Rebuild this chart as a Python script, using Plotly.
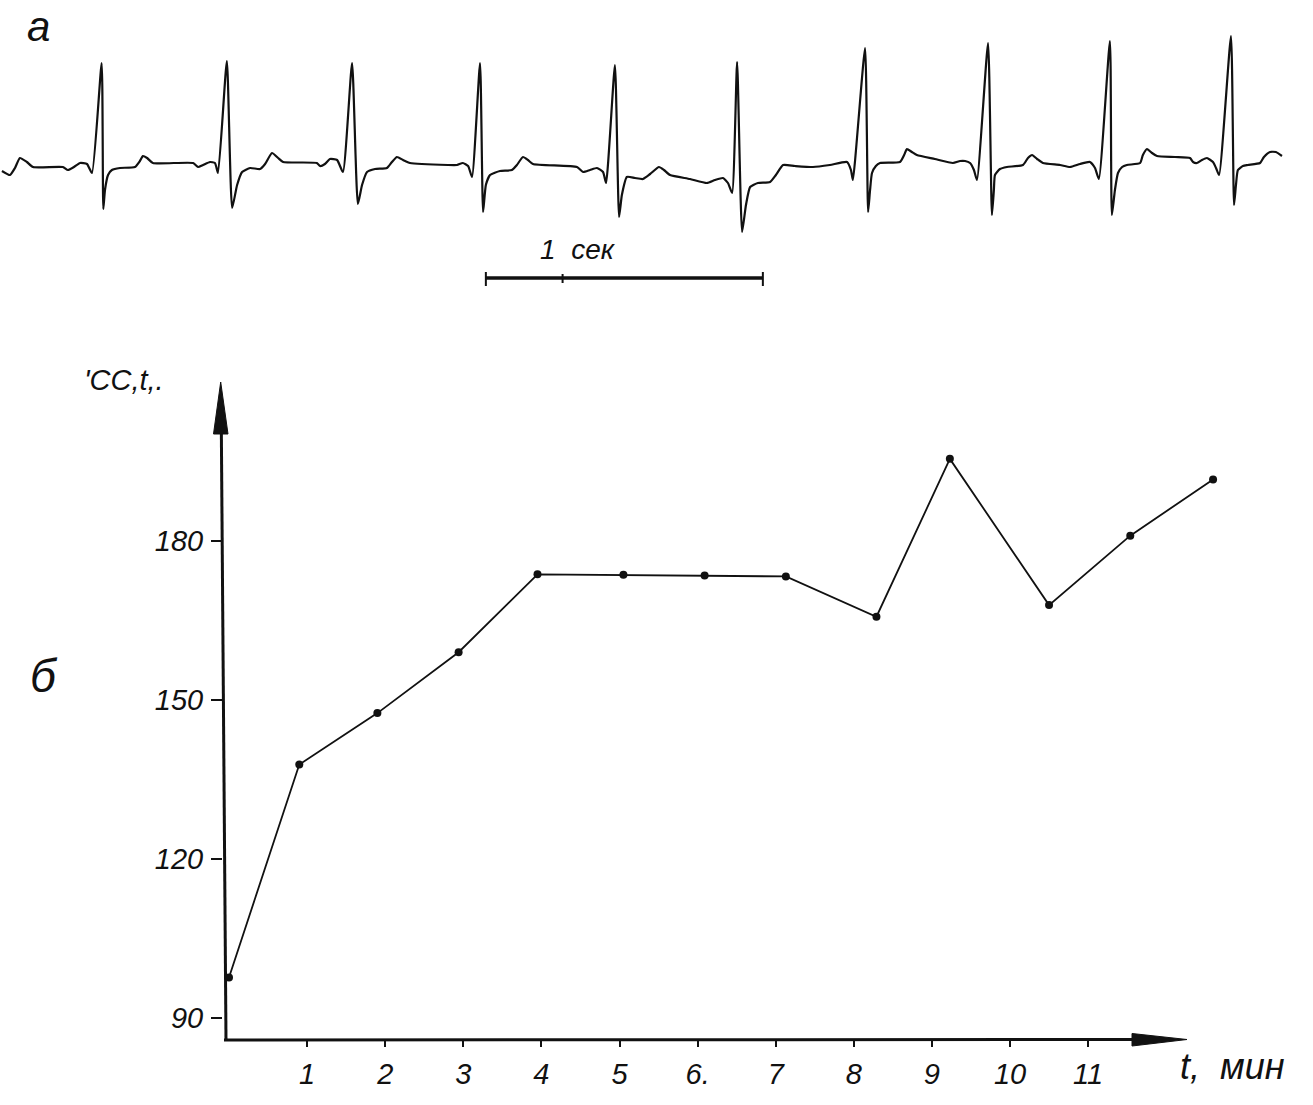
import plotly.graph_objects as go

# ---------------- data ----------------
# (б) heart rate vs time
minutes = [0, 0.90, 1.90, 2.94, 3.95, 5.05, 6.09, 7.13, 8.29, 9.23, 10.50, 11.54, 12.60]
heart_rate = [97.6, 137.8, 147.5, 159.0, 173.7, 173.6, 173.5, 173.3, 165.7, 195.5, 167.9, 181.0, 191.6]

x_tick_vals = [1, 2, 3, 4, 5, 6, 7, 8, 9, 10, 11]
x_tick_text = ["1", "2", "3", "4", "5", "6.", "7", "8", "9", "10", "11"]
y_tick_vals = [90, 120, 150, 180]
y_tick_text = ["90", "120", "150", "180"]

# (а) ECG trace: time in seconds, amplitude in mV
ecg_time_s = [
    0.007, 0.036, 0.054, 0.072, 0.097, 0.119, 0.227, 0.245, 0.267, 0.289, 0.314, 0.332,
    0.367, 0.373, 0.379, 0.390, 0.404, 0.433, 0.487, 0.505, 0.516, 0.531, 0.552, 0.697,
    0.715, 0.733, 0.758, 0.776, 0.787,
    0.819, 0.838, 0.856, 0.874, 0.903, 0.939, 0.957, 0.982, 1.004, 1.022, 1.144, 1.155,
    1.173, 1.191, 1.217, 1.238,
    1.271, 1.292, 1.307, 1.325, 1.354, 1.397, 1.415, 1.433, 1.455, 1.480, 1.617, 1.650,
    1.671, 1.690, 1.704,
    1.733, 1.744, 1.754, 1.769, 1.805, 1.848, 1.866, 1.888, 1.906, 1.924, 2.083, 2.105,
    2.130, 2.155, 2.177, 2.188,
    2.220, 2.235, 2.245, 2.263, 2.292, 2.321, 2.347, 2.379, 2.397, 2.419, 2.491, 2.552,
    2.581, 2.610, 2.628, 2.643,
    2.661, 2.679, 2.693, 2.708, 2.736, 2.780, 2.801, 2.827, 2.870, 2.935, 2.996, 3.058,
    3.072, 3.079,
    3.123, 3.134, 3.141, 3.148, 3.162, 3.177, 3.249, 3.264, 3.274, 3.292, 3.310, 3.375,
    3.440, 3.466, 3.484, 3.502, 3.516, 3.527,
    3.567, 3.581, 3.588, 3.592, 3.610, 3.635, 3.693, 3.711, 3.726, 3.744, 3.765, 3.827,
    3.863, 3.899, 3.935, 3.953, 3.967,
    4.007, 4.014, 4.025, 4.036, 4.051, 4.068, 4.116, 4.126, 4.141, 4.159, 4.177, 4.242,
    4.296, 4.307, 4.321, 4.339, 4.357, 4.379, 4.390, 4.401,
    4.444, 4.455, 4.462, 4.469, 4.487, 4.505, 4.549, 4.563, 4.585, 4.606, 4.628,
]
ecg_mv = [
    -0.08, -0.12, -0.05, 0.05, 0.01, -0.04, -0.04, -0.07, -0.04, 0.00, -0.01, -0.10,
    1.00, -0.46, -0.27, -0.12, -0.07, -0.05, -0.04, 0.02, 0.07, 0.05, 0.00, 0.00,
    -0.04, -0.02, 0.01, 0.00, -0.10,
    1.02, -0.45, -0.22, -0.09, -0.05, -0.06, -0.01, 0.10, 0.05, 0.01, 0.00, -0.03,
    -0.01, 0.04, 0.03, -0.09,
    1.00, -0.41, -0.22, -0.09, -0.06, -0.05, 0.01, 0.06, 0.03, 0.00, -0.02, -0.02,
    0.00, -0.03, -0.14,
    1.00, -0.49, -0.22, -0.12, -0.08, -0.07, -0.02, 0.06, 0.03, -0.01, -0.04, -0.09,
    -0.07, -0.05, -0.09, -0.20,
    0.98, -0.54, -0.32, -0.14, -0.15, -0.16, -0.11, -0.04, -0.07, -0.12, -0.16, -0.20,
    -0.17, -0.15, -0.20, -0.30,
    1.01, -0.69, -0.42, -0.24, -0.20, -0.19, -0.12, -0.02, -0.03, -0.04, -0.02, 0.01,
    -0.07, -0.17,
    1.15, -0.49, -0.27, -0.10, -0.03, 0.00, 0.01, 0.08, 0.14, 0.11, 0.08, 0.04,
    0.00, 0.02, 0.02, 0.00, -0.07, -0.17,
    1.20, -0.52, -0.27, -0.12, -0.06, -0.04, -0.02, 0.05, 0.08, 0.04, 0.00, -0.02,
    -0.04, -0.01, 0.01, -0.05, -0.16,
    1.22, -0.52, -0.27, -0.10, -0.04, -0.02, 0.00, 0.08, 0.14, 0.10, 0.07, 0.06,
    0.05, 0.01, 0.00, 0.03, 0.05, 0.01, -0.05, -0.12,
    1.27, -0.42, -0.22, -0.07, -0.03, -0.02, 0.00, 0.06, 0.11, 0.11, 0.07,
]

# 1-second calibration bar
scale_bar_start_s = 1.754
scale_bar_len_s = 1.0
scale_bar_mid_s = 2.031
scale_bar_level_mv = -1.15

# ---------------- layout geometry (pixels of the 1313x1105 page) ----------------
W, H = 1313, 1105
X0_PX, X_PX_PER_MIN = 229.0, 78.1      # pixel of t = 0 min, pixels per minute
Y90_PX, Y_PX_PER_BPM = 1017.7, 5.297   # pixel of 90 bpm, pixels per bpm
PLOT_L, PLOT_R, PLOT_T, PLOT_B = 223.0, 1260.0, 372.0, 1040.0

def px_to_x(p):
    return (p - X0_PX) / X_PX_PER_MIN

def px_to_y(p):
    return 90 + (Y90_PX - p) / Y_PX_PER_BPM

def fx(p):
    return p / W

def fy(p):
    return 1 - p / H

ECG_TOP_PX, ECG_BOT_PX = 0.0, 300.0
ECG_BASE_PX, ECG_PX_PER_MV = 163.0, 100.0
ECG_PX_PER_S = 277.0

FONT = "Liberation Sans"
ink = "#111111"

fig = go.Figure()

# ECG tracing
fig.add_trace(go.Scatter(
    x=ecg_time_s, y=ecg_mv, mode="lines",
    line=dict(color=ink, width=2.2, shape="spline", smoothing=0.5),
    xaxis="x2", yaxis="y2", hoverinfo="skip",
))
# calibration bar
fig.add_trace(go.Scatter(
    x=[scale_bar_start_s, scale_bar_start_s + scale_bar_len_s],
    y=[scale_bar_level_mv, scale_bar_level_mv], mode="lines",
    line=dict(color=ink, width=3.5),
    xaxis="x2", yaxis="y2", hoverinfo="skip",
))

# heart-rate curve
fig.add_trace(go.Scatter(
    x=minutes, y=heart_rate, mode="lines+markers",
    line=dict(color=ink, width=1.8),
    marker=dict(color=ink, size=8),
    cliponaxis=False,
))

tickfont = dict(family=FONT, size=29, color=ink, style="italic")

fig.update_layout(
    width=W, height=H,
    margin=dict(l=0, r=0, t=0, b=0),
    paper_bgcolor="white", plot_bgcolor="rgba(0,0,0,0)",
    showlegend=False,
    xaxis=dict(
        domain=[fx(PLOT_L), fx(PLOT_R)],
        range=[px_to_x(PLOT_L), px_to_x(PLOT_R)],
        tickmode="array", tickvals=x_tick_vals, ticktext=x_tick_text,
        ticks="outside", ticklen=6, tickwidth=2, tickcolor=ink,
        tickfont=tickfont, showgrid=False, zeroline=False, showline=False,
        anchor="y", ticklabelstandoff=2,
    ),
    yaxis=dict(
        domain=[fy(PLOT_B), fy(PLOT_T)],
        range=[px_to_y(PLOT_B), px_to_y(PLOT_T)],
        tickmode="array", tickvals=y_tick_vals, ticktext=y_tick_text,
        ticks="outside", ticklen=11, tickwidth=2, tickcolor=ink,
        tickfont=tickfont, showgrid=False, zeroline=False, showline=False,
        anchor="x", ticklabelstandoff=2,
    ),
    xaxis2=dict(
        domain=[0, 1], range=[0, W / ECG_PX_PER_S],
        visible=False, anchor="y2", fixedrange=True,
    ),
    yaxis2=dict(
        domain=[fy(ECG_BOT_PX), fy(ECG_TOP_PX)],
        range=[(ECG_BASE_PX - ECG_BOT_PX) / ECG_PX_PER_MV, (ECG_BASE_PX - ECG_TOP_PX) / ECG_PX_PER_MV],
        visible=False, anchor="x2", fixedrange=True,
    ),
)

shapes = []
# calibration bar tick marks
for t in [scale_bar_start_s, scale_bar_start_s + scale_bar_len_s]:
    shapes.append(dict(type="line", xref="x2", yref="y2", x0=t, x1=t,
                       y0=scale_bar_level_mv - 0.08, y1=scale_bar_level_mv + 0.06,
                       line=dict(color=ink, width=2)))
shapes.append(dict(type="line", xref="x2", yref="y2", x0=scale_bar_mid_s, x1=scale_bar_mid_s,
                   y0=scale_bar_level_mv - 0.05, y1=scale_bar_level_mv + 0.04,
                   line=dict(color=ink, width=2)))

# x axis with arrow
shapes.append(dict(type="line", xref="paper", yref="paper",
                   x0=fx(224), y0=fy(1040), x1=fx(1150), y1=fy(1039.5),
                   line=dict(color=ink, width=3)))
shapes.append(dict(type="path", xref="paper", yref="paper",
                   path=f"M {fx(1187)},{fy(1039.5)} L {fx(1132)},{fy(1033.5)} L {fx(1132)},{fy(1046)} Z",
                   fillcolor=ink, line=dict(color=ink, width=1)))
# y axis with arrow
shapes.append(dict(type="line", xref="paper", yref="paper",
                   x0=fx(226), y0=fy(1041), x1=fx(221.3), y1=fy(425),
                   line=dict(color=ink, width=3)))
shapes.append(dict(type="path", xref="paper", yref="paper",
                   path=f"M {fx(220.7)},{fy(382)} L {fx(213.5)},{fy(434)} L {fx(228)},{fy(434)} Z",
                   fillcolor=ink, line=dict(color=ink, width=1)))
fig.update_layout(shapes=shapes)

def label(text, xpx, ypx, size, xanchor="center"):
    return dict(text=text, xref="paper", yref="paper", x=fx(xpx), y=fy(ypx),
                xanchor=xanchor, yanchor="middle", showarrow=False,
                font=dict(family=FONT, size=size, color=ink, style="italic"))

fig.update_layout(annotations=[
    label("а", 38, 26, 42),
    label("б", 44, 676, 46),
    label("1  сек", 578, 250, 28),
    label("'CC,t,.", 166, 380, 29, xanchor="right"),
    label("t,  мин", 1232, 1066, 36),
])

fig.write_html("out.html", config={"displayModeBar": False},
               post_script="document.body.style.margin='0';")
